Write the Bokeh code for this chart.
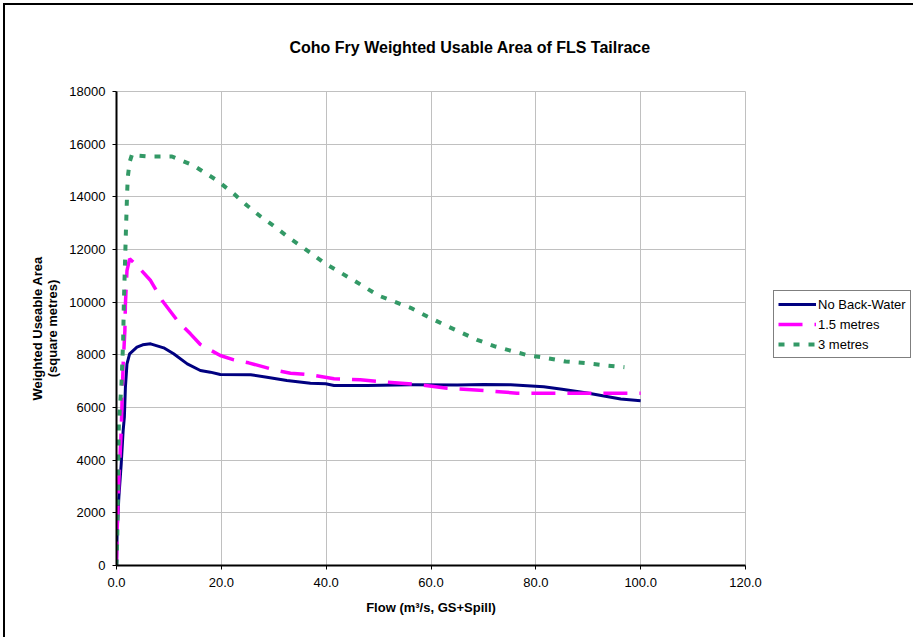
from bokeh.plotting import figure
from bokeh.models import (Range1d, FixedTicker, NumeralTickFormatter, Legend, LegendItem)
from bokeh.embed import file_html
from bokeh.resources import INLINE

# ---- data ----
flow_nbw = [0, 0.13, 0.45, 0.9, 1.27, 1.5, 1.7, 2.0, 2.5, 3.9, 5.0, 6.5, 9.0, 10.9, 13.5, 16.0,
            17.9, 19.8, 25.6, 28.7, 32.5, 37.0, 39.9, 41.5, 47.8, 56.1, 65.0, 70.0, 75.2, 81.5,
            85.0, 89.8, 96.2, 100.0]
wua_nbw = [0, 1330, 2594, 3860, 5126, 5632, 6771, 7658, 8038, 8291, 8380, 8418, 8266, 8038, 7658,
           7405, 7342, 7253, 7241, 7152, 7026, 6924, 6899, 6835, 6835, 6860, 6855, 6870, 6860, 6790,
           6690, 6554, 6326, 6260]

flow_15 = [0, 0.13, 0.45, 0.9, 1.27, 1.6, 1.7, 2.0, 2.5, 3.9, 6.5, 8.7, 11.6, 14.1, 16.0, 19.8,
           22.4, 25.2, 30.6, 33.2, 37.0, 41.5, 46.5, 51.6, 57.3, 63.1, 70.1, 76.4, 84.7, 91.7,
           98.7, 100.0]
wua_15 = [0, 1330, 3230, 5126, 7660, 8924, 9937, 11202, 11646, 11392, 10822, 10063, 9304, 8797,
          8392, 7975, 7810, 7696, 7405, 7304, 7241, 7089, 7051, 6962, 6873, 6734, 6645, 6544,
          6544, 6544, 6544, 6544]

flow_3 = [0, 0.13, 0.25, 0.45, 0.95, 1.27, 1.4, 1.6, 1.8, 2.0, 2.15, 2.5, 3.0, 3.9, 6.5, 10.6,
          14.7, 16.7, 19.2, 22.4, 24.9, 27.5, 30.3, 33.2, 36.4, 39.9, 45.3, 50.0, 56.1, 59.3,
          62.4, 65.6, 68.8, 72.3, 75.5, 78.7, 81.8, 85.7, 89.5, 93.5, 96.9]
wua_3 = [0, 950, 2468, 5380, 6900, 8544, 9950, 11330, 12720, 13990, 14740, 15317, 15633, 15570,
         15531, 15531, 15190, 14936, 14620, 14114, 13670, 13253, 12848, 12404, 11961, 11455,
         10822, 10250, 9785, 9456, 9152, 8860, 8569, 8316, 8139, 7974, 7886, 7746, 7683, 7594,
         7531]

series_names = ["No Back-Water", "1.5 metres", "3 metres"]
x_ticks = [0, 20, 40, 60, 80, 100, 120]
y_ticks = [0, 2000, 4000, 6000, 8000, 10000, 12000, 14000, 16000, 18000]

FONT = "Liberation Sans"

p = figure(frame_width=629, frame_height=474, output_backend="svg", toolbar_location=None,
           x_range=Range1d(0, 120), y_range=Range1d(0, 18000),
           min_border_left=116, min_border_right=168, min_border_top=91, min_border_bottom=72,
           background_fill_color="white", border_fill_color="white")

p.title.text = "Coho Fry Weighted Usable Area of FLS Tailrace"
p.title.text_font = FONT
p.title.text_font_size = "16px"
p.title.text_font_style = "bold"
p.title.text_color = "black"
p.title.align = "left"
p.title.offset = 173
p.title.standoff = 72

p.outline_line_color = "#c0c0c0"
p.outline_line_width = 1

for ax in (p.xaxis[0], p.yaxis[0]):
    ax.axis_line_color = "black"
    ax.axis_line_width = 2
    ax.major_tick_line_color = "black"
    ax.major_tick_out = 4
    ax.major_tick_in = 0
    ax.minor_tick_line_color = None
    ax.major_label_text_font = FONT
    ax.major_label_text_font_size = "13px"
    ax.major_label_text_color = "black"
    ax.axis_label_text_font = FONT
    ax.axis_label_text_font_size = "13px"
    ax.axis_label_text_font_style = "bold"
    ax.axis_label_text_color = "black"

p.xaxis[0].ticker = FixedTicker(ticks=x_ticks)
p.xaxis[0].formatter = NumeralTickFormatter(format="0.0")
p.xaxis[0].axis_label = "Flow (m³/s, GS+Spill)"
p.xaxis[0].major_label_standoff = 8
p.xaxis[0].axis_label_standoff = 10

p.yaxis[0].ticker = FixedTicker(ticks=y_ticks)
p.yaxis[0].formatter = NumeralTickFormatter(format="0")
p.yaxis[0].axis_label = "Weighted Useable Area\n(square metres)"
p.yaxis[0].axis_label_text_line_height = 1.05
p.yaxis[0].major_label_standoff = 7
p.yaxis[0].axis_label_standoff = 6

p.xgrid.ticker = FixedTicker(ticks=x_ticks)
p.ygrid.ticker = FixedTicker(ticks=y_ticks)
for g in (p.xgrid[0], p.ygrid[0]):
    g.grid_line_color = "#c0c0c0"
    g.grid_line_width = 1

r1 = p.line(flow_nbw, wua_nbw, line_color="#000080", line_width=3, line_join="round")
r2 = p.line(flow_15, wua_15, line_color="#FF00FF", line_width=3.5, line_dash="24 12")
r3 = p.line(flow_3, wua_3, line_color="#339966", line_width=4, line_dash="6 9")

legend = Legend(items=[LegendItem(label=series_names[0], renderers=[r1]),
                       LegendItem(label=series_names[1], renderers=[r2]),
                       LegendItem(label=series_names[2], renderers=[r3])],
                location=(28, 207))
legend.border_line_color = "black"
legend.border_line_width = 1
legend.background_fill_color = "white"
legend.background_fill_alpha = 1
legend.label_text_font = FONT
legend.label_text_font_size = "13px"
legend.label_text_color = "black"
legend.padding = 4
legend.spacing = 2
legend.margin = 0
legend.glyph_width = 38
legend.glyph_height = 18
legend.label_height = 18
legend.label_standoff = 2
p.add_layout(legend, "right")

# page template (bokeh prepends "{% extends base %}"): the chart area's top/left border line
TEMPLATE = """{% block postamble %}
<style>
body::before { content: ""; position: fixed; left: 3px; top: 3px; width: 2px; height: 100%;
               background: #000; z-index: 10; pointer-events: none; }
body::after  { content: ""; position: fixed; left: 3px; top: 3px; width: 100%; height: 2px;
               background: #000; z-index: 10; pointer-events: none; }
</style>
{% endblock %}
"""

open("out.html", "w").write(file_html(p, INLINE, template=TEMPLATE))
